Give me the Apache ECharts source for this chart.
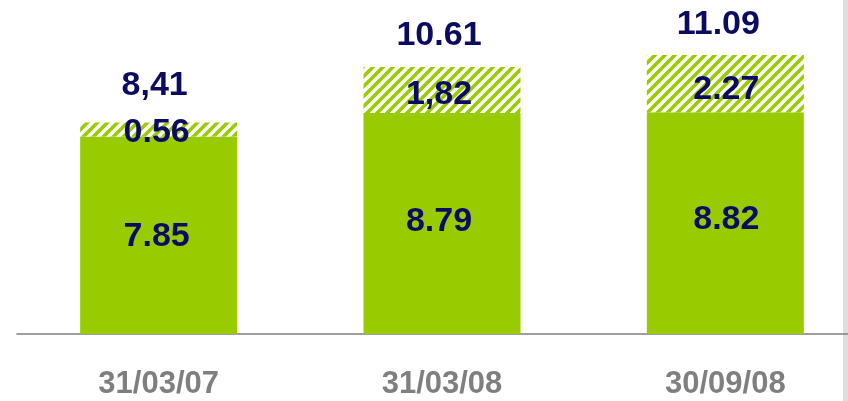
<!DOCTYPE html>
<html>
<head>
<meta charset="utf-8">
<script src="https://cdn.jsdelivr.net/npm/echarts@6/dist/echarts.min.js"></script>
<style>
html, body { margin: 0; padding: 0; background: #fff; }
#main { width: 848px; height: 401px; }
</style>
</head>
<body>
<div id="main"></div>
<script>
var myChart = echarts.init(document.getElementById('main'));

// 数据
var categories = ['31/03/07', '31/03/08', '30/09/08'];
var baseValues = [7.85, 8.79, 8.82];
var baseLabels = ['7.85', '8.79', '8.82'];
var topValues = [0.56, 1.82, 2.27];
var topLabels = ['0.56', '1,82', '2.27'];
var totalLabels = ['8,41', '10.61', '11.09'];

// 标签微调 (原图里标签不是严格居中)
var baseNudge = [[-2, 1], [-3, -2], [1, -3]];
var topNudge = [[-2, 3], [-3, 5], [1, 6]];
var totalNudge = [[-4, -2], [-3, 4], [-7, 5]];

var green = '#99cc00';
var navy = '#0b0b62';

// 斜线填充
var hatch = document.createElement('canvas');
hatch.width = 10;
hatch.height = 10;
var ctx = hatch.getContext('2d');
ctx.fillStyle = '#fff';
ctx.fillRect(0, 0, 10, 10);
ctx.strokeStyle = green;
ctx.lineWidth = 3.6;
[[-10, 10, 10, -10], [0, 10, 10, 0], [0, 20, 20, 0]].forEach(function (l) {
    ctx.beginPath();
    ctx.moveTo(l[0], l[1]);
    ctx.lineTo(l[2], l[3]);
    ctx.stroke();
});

var labelFont = {
    color: navy,
    fontSize: 34,
    fontWeight: 'bold',
    fontFamily: 'Liberation Sans, Arial, sans-serif'
};

function withNudge(values, nudge) {
    return values.map(function (v, i) {
        return { value: v, label: { offset: nudge[i] } };
    });
}

option = {
    animation: false,
    grid: { left: 17, right: -19, top: 7, bottom: 67, outerBoundsMode: 'none' },
    xAxis: {
        type: 'category',
        data: categories,
        axisLine: { lineStyle: { color: '#808080', width: 1.5 } },
        axisTick: { show: false },
        axisLabel: {
            margin: 35,
            color: '#7f7f7f',
            fontSize: 31,
            fontWeight: 'bold',
            fontFamily: 'Liberation Sans, Arial, sans-serif'
        }
    },
    yAxis: {
        type: 'value',
        min: 0,
        max: 13,
        show: false
    },
    graphic: [{
        type: 'rect',
        right: 0,
        top: 0,
        shape: { width: 5, height: 401 },
        style: { fill: '#dedede' }
    }],
    series: [
        {
            type: 'bar',
            stack: 'a',
            barWidth: 157,
            data: withNudge(baseValues, baseNudge),
            itemStyle: { color: green },
            label: Object.assign({
                show: true,
                position: 'inside',
                formatter: function (p) { return baseLabels[p.dataIndex]; }
            }, labelFont)
        },
        {
            type: 'bar',
            stack: 'a',
            data: withNudge(topValues, topNudge),
            itemStyle: { color: { image: hatch, repeat: 'repeat' } },
            label: Object.assign({
                show: true,
                position: 'inside',
                formatter: function (p) { return topLabels[p.dataIndex]; }
            }, labelFont)
        },
        {
            type: 'bar',
            stack: 'a',
            data: withNudge([0, 0, 0], totalNudge),
            itemStyle: { color: 'transparent' },
            label: Object.assign({
                show: true,
                position: 'top',
                distance: 18,
                formatter: function (p) { return totalLabels[p.dataIndex]; }
            }, labelFont)
        }
    ]
};

myChart.setOption(option);
</script>
</body>
</html>
